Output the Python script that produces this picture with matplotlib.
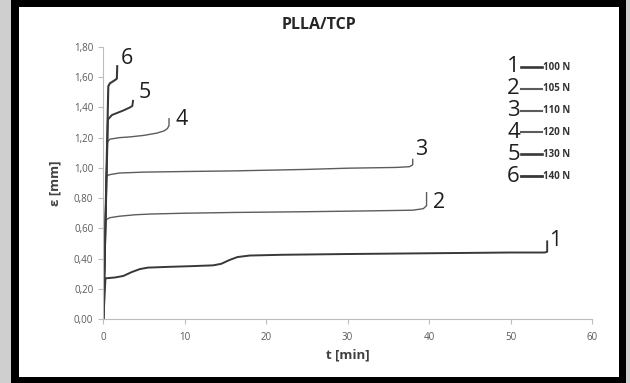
import matplotlib
matplotlib.use("Agg")
import matplotlib.pyplot as plt
from matplotlib.patches import Rectangle
from matplotlib.lines import Line2D
from matplotlib.ticker import FuncFormatter, MultipleLocator

plt.rcParams.update({"font.family": ["Open Sans", "DejaVu Sans"], "axes.linewidth": 0.8})

# creep curves: strain eps [mm] vs time t [min], one per load level
t1 = [0.05, 0.3, 0.5, 1.5, 2.5, 3.5, 4.5, 5.5, 8, 11, 13.5, 14.5, 15.5, 16.5, 18, 22, 30, 40, 50, 54.2, 54.5, 54.5]
e1 = [0.00, 0.27, 0.27, 0.275, 0.285, 0.31, 0.33, 0.34, 0.345, 0.35, 0.355, 0.365, 0.39, 0.41, 0.42, 0.425, 0.43, 0.435, 0.44, 0.44, 0.445, 0.52]
t2 = [0.05, 0.35, 0.8, 2, 4, 6, 10, 16, 25, 32, 38, 39.3, 39.7, 39.7]
e2 = [0.00, 0.655, 0.67, 0.68, 0.69, 0.695, 0.70, 0.705, 0.71, 0.715, 0.72, 0.73, 0.75, 0.84]
t3 = [0.05, 0.4, 0.8, 2, 5, 10, 16, 25, 30, 36, 37.6, 38.0, 38.0]
e3 = [0.00, 0.945, 0.955, 0.966, 0.972, 0.976, 0.98, 0.99, 0.998, 1.003, 1.008, 1.02, 1.06]
t4 = [0.05, 0.5, 0.85, 2, 3.3, 5, 6.6, 7.5, 7.9, 8.1, 8.1]
e4 = [0.00, 1.17, 1.19, 1.20, 1.205, 1.215, 1.23, 1.245, 1.26, 1.28, 1.33]
t5 = [0.05, 0.6, 1.1, 1.8, 2.5, 3.3, 3.6, 3.7]
e5 = [0.00, 1.32, 1.35, 1.365, 1.38, 1.40, 1.41, 1.45]
t6 = [0.05, 0.65, 0.85, 1.3, 1.7, 1.75]
e6 = [0.00, 1.54, 1.56, 1.575, 1.59, 1.68]

curve_ids = ["1", "2", "3", "4", "5", "6"]
loads = ["100 N", "105 N", "110 N", "120 N", "130 N", "140 N"]
# where each curve number sits next to its end hook
label_t = [55.5, 41.2, 39.1, 9.7, 5.15, 2.9]
label_e = [0.52, 0.774, 1.12, 1.317, 1.50, 1.727]

DARK = "#383838"; MID = "#5c5c5c"
colors = [DARK, MID, MID, MID, DARK, DARK]
widths = [1.4, 1.0, 1.0, 1.0, 1.4, 1.5]

W, H = 630, 383
fig = plt.figure(figsize=(W / 100, H / 100), dpi=100, facecolor="#cfcfcf")


def px_rect(x0, y0, x1, y1, color, z):
    # rectangle given in pixel coords measured from the top-left corner
    fig.add_artist(Rectangle((x0 / W, 1 - y1 / H), (x1 - x0) / W, (y1 - y0) / H,
                             transform=fig.transFigure, color=color, lw=0, zorder=z))


px_rect(11, 0, 626, 383, "black", -3)
px_rect(19, 7, 619, 377, "white", -2)

ax = fig.add_axes([103 / W, 1 - 319 / H, (592 - 103) / W, (319 - 47) / H])
ax.patch.set_visible(False)

curves = [(t1, e1), (t2, e2), (t3, e3), (t4, e4), (t5, e5), (t6, e6)]
for (t, e), c, lw in zip(curves, colors, widths):
    ax.plot(t, e, color=c, lw=lw, solid_capstyle="butt", solid_joinstyle="round")
for lab, tx, ey in zip(curve_ids, label_t, label_e):
    ax.text(tx, ey, lab, fontsize=15.5, color="#1e1e1e", ha="center", va="center")

ax.set_xlim(0, 60); ax.set_ylim(0, 1.8)
ax.xaxis.set_major_locator(MultipleLocator(10))
ax.yaxis.set_major_locator(MultipleLocator(0.2))
ax.yaxis.set_major_formatter(FuncFormatter(lambda v, _: f"{v:.2f}".replace(".", ",")))
ax.tick_params(axis="both", colors="#bdbdbd", labelcolor="#595959", labelsize=7, length=3.5, width=0.8)
ax.tick_params(axis="x", pad=6)
for s in ("top", "right"): ax.spines[s].set_visible(False)
for s in ("left", "bottom"): ax.spines[s].set_color("#bdbdbd")

ax.set_xlabel("t [min]", fontsize=9.5, fontweight="bold", color="#404040", labelpad=4)
ax.set_ylabel("ε [mm]", fontsize=9.5, fontweight="bold", color="#404040", labelpad=9)
fig.text(319 / W, 1 - 25 / H, "PLLA/TCP", fontsize=11.5, fontweight="bold", color="#262626",
         ha="center", va="center")

# load key on the right: number, line sample, load
for i, (lab, load, c, lw) in enumerate(zip(curve_ids, loads, colors, widths)):
    y = 1 - (67 + i * 21.8) / H
    fig.text(520 / W, y, lab, fontsize=16, color="#1e1e1e", ha="right", va="center")
    fig.add_artist(Line2D([521 / W, 542 / W], [y, y], transform=fig.transFigure,
                          color=c, lw=lw + 0.5))
    fig.text(543 / W, y, load, fontsize=7, fontweight="bold", color="#333333", ha="left", va="center")

fig.savefig("out.png", dpi=100, facecolor=fig.get_facecolor())
